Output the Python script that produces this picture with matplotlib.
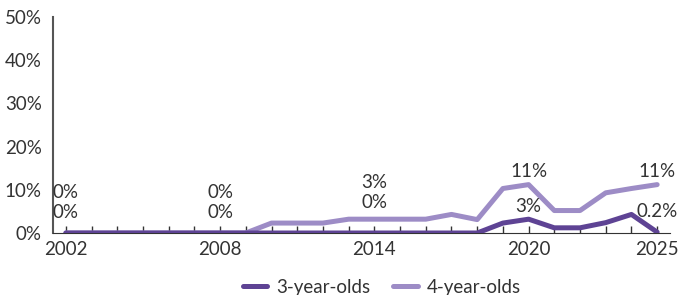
import matplotlib
matplotlib.use("Agg")
import matplotlib.pyplot as plt
from matplotlib.ticker import FuncFormatter, MultipleLocator

plt.rcParams['font.family'] = ['Lato', 'DejaVu Sans']

years = list(range(2002, 2026))
three_year_olds = [0, 0, 0, 0, 0, 0, 0, 0, 0, 0, 0, 0, 0, 0, 0, 0, 0,
                   2.3, 3.2, 1.2, 1.2, 2.4, 4.3, 0.2]
four_year_olds = [0, 0, 0, 0, 0, 0, 0, 0, 2.3, 2.3, 2.3, 3.2, 3.2, 3.2, 3.2, 4.3, 3.1,
                  10.3, 11.2, 5.2, 5.2, 9.3, 10.3, 11.2]
tick_years = [2002, 2008, 2014, 2020, 2025]
label_years = [2002, 2008, 2014, 2020, 2025]
three_labels = ["0%", "0%", "0%", "3%", "0.2%"]
four_labels = ["0%", "0%", "3%", "11%", "11%"]

dark = "#5e4394"
light = "#9d8cc6"
text_col = "#333333"
fs = 13.5

fig = plt.figure(figsize=(6.78, 2.95), dpi=100)
ax = fig.add_axes([53/678, 1 - 233/295, (670-53)/678, (233-17)/295])

ax.plot(years, three_year_olds, color=dark, lw=3.6, solid_capstyle='round', zorder=3, label="3-year-olds")
ax.plot(years, four_year_olds, color=light, lw=3.6, solid_capstyle='round', zorder=2, label="4-year-olds")

ax.set_xlim(2001.5, 2025.5)
ax.set_ylim(0, 50)
ax.yaxis.set_major_locator(MultipleLocator(10))
ax.yaxis.set_major_formatter(FuncFormatter(lambda v, p: f"{v:.0f}%"))
ax.set_xticks(tick_years)
ax.set_xticks(years, minor=True)
ax.tick_params(axis='x', which='both', direction='in', length=5, width=1, color=text_col,
               labelsize=fs, labelcolor=text_col, pad=6)
ax.tick_params(axis='y', length=0, labelsize=fs, labelcolor=text_col, pad=8)
for s in ['top', 'right']:
    ax.spines[s].set_visible(False)
ax.spines['left'].set_color("#555555")
ax.spines['bottom'].set_color("#333333")
ax.spines['left'].set_linewidth(1.5)

# data labels: vertical offsets of label centres, in pixels
four_off = {2002: 40, 2008: 40, 2014: 37, 2020: 13, 2025: 13}
three_off = {2002: 20, 2008: 20, 2014: 30, 2020: 13, 2025: 21}
px = 72 / 100
for yr, t3, t4 in zip(label_years, three_labels, four_labels):
    i = years.index(yr)
    ax.annotate(t4, (yr, four_year_olds[i]), xytext=(0, four_off[yr] * px), textcoords='offset points',
                ha='center', va='center', fontsize=fs, color=text_col)
    ax.annotate(t3, (yr, three_year_olds[i]), xytext=(0, three_off[yr] * px),
                textcoords='offset points', ha='center', va='center', fontsize=fs, color=text_col)

leg = fig.legend(loc='center', bbox_to_anchor=(382/678, 1 - 287/295), ncol=2, frameon=False,
                 fontsize=fs, handlelength=1.3, columnspacing=1.2, handletextpad=0.5)
for t in leg.get_texts():
    t.set_color(text_col)

fig.savefig("out.png", dpi=100)
